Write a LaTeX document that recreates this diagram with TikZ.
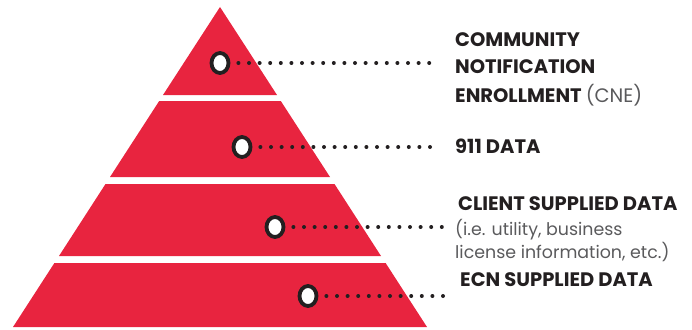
\documentclass[tikz,border=0pt]{standalone}
\usepackage{fontspec}
\setmainfont{Poppins}
\usetikzlibrary{shapes.geometric}
\definecolor{tierred}{HTML}{E8243F}
\definecolor{darktext}{HTML}{231F20}
\definecolor{lighttext}{HTML}{5A5A5C}
\tikzset{
  tier/.style={fill=tierred, draw=none},
  ring/.style={ellipse, draw=darktext, fill=white, line width=3.8pt, minimum width=17pt, minimum height=20pt, inner sep=0pt},
  dots/.style={draw=darktext, line width=4pt, line cap=round, dash pattern=on 0pt off 10.6pt},
  boldlabel/.style={anchor=base west, inner sep=0pt, text=darktext, font=\fontsize{19.5}{22}\selectfont\bfseries},
  lightlabel/.style={anchor=base west, inner sep=0pt, text=lighttext, font=\fontsize{17.4}{22}\selectfont},
}
\begin{document}
\begin{tikzpicture}[x=1pt,y=-1pt]
\useasboundingbox (0,0) rectangle (692,329);
% tiers
\fill[tier] (220,7) -- (277,95) -- (163,95) -- cycle;
\fill[tier] (159.2,101) -- (280.8,101) -- (330,177) -- (110,177) -- cycle;
\fill[tier] (105.5,184) -- (334.5,184) -- (381,256) -- (59,256) -- cycle;
\fill[tier] (54.4,263) -- (385.6,263) -- (427,327) -- (13,327) -- cycle;
% rings
\node[ring] (r1) at (220,63) {};
\node[ring] (r2) at (242,147) {};
\node[ring] (r3) at (275,227) {};
\node[ring] (r4) at (308,296) {};
% dot ends
\coordinate (e1) at (437,63);
\coordinate (e2) at (437,147);
\coordinate (e3) at (447,227);
\coordinate (e4) at (443,296);
\draw[dots] ([xshift=8pt]r1.east) -- (e1);
\draw[dots] ([xshift=8pt]r2.east) -- (e2);
\draw[dots] ([xshift=8pt]r3.east) -- (e3);
\draw[dots] ([xshift=8pt]r4.east) -- (e4);
% labels
\node[boldlabel] (t1a) at (455,47) {COMMUNITY};
\node[boldlabel] (t1b) at (455,74) {NOTIFICATION};
\node[boldlabel] (t1c) at (455,102) {ENROLLMENT \textmd{\color{lighttext}(CNE)}};
\node[boldlabel] (t2) at (455,153) {911 DATA};
\node[boldlabel] (t3a) at (458,210) {CLIENT SUPPLIED DATA};
\node[lightlabel] (t3b) at (455,235) {(i.e. utility, business};
\node[lightlabel] (t3c) at (455,258) {license information, etc.)};
\node[boldlabel] (t4) at (460,286) {ECN SUPPLIED DATA};
\end{tikzpicture}
\end{document}
